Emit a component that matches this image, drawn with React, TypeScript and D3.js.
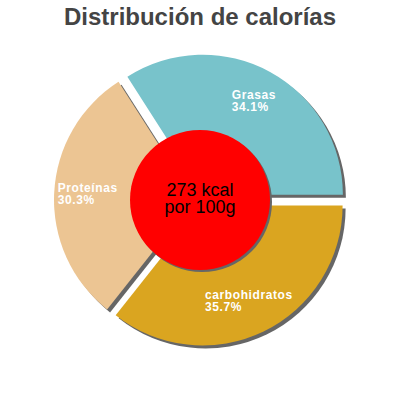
import * as d3 from 'd3';
import { useEffect, useRef } from 'react';

const title = 'Distribución de calorías';
const sliceLabels = ['carbohidratos', 'Proteínas', 'Grasas'];
const sliceValues = [35.7, 30.3, 34.1];
const sliceColors = ['#daa520', '#ecc593', '#78c3cb'];
const centerLines = ['273 kcal', 'por 100g'];

const WIDTH = 400;
const HEIGHT = 400;

export default function App() {
  const svgRef = useRef<SVGSVGElement>(null);

  const drawChart = () => {
    const svgEl = d3.select(svgRef.current!);
    svgEl.selectAll('*').remove();

    const cx = 200;
    const cy = 200;
    const radius = 140;
    const explode = 6;

    svgEl
      .append('text')
      .attr('x', WIDTH / 2)
      .attr('y', 25)
      .attr('text-anchor', 'middle')
      .attr('font-family', 'Liberation Sans, Arial, sans-serif')
      .attr('font-weight', 'bold')
      .attr('font-size', '24px')
      .attr('fill', '#444')
      .text(title);

    const pieData = d3
      .pie<number>()
      .sort(null)
      .startAngle(Math.PI / 2)
      .endAngle(Math.PI / 2 + 2 * Math.PI)(sliceValues);

    const arc = d3.arc<d3.PieArcDatum<number>>().innerRadius(0).outerRadius(radius);

    const offsetOf = (d: d3.PieArcDatum<number>) => {
      const mid = (d.startAngle + d.endAngle) / 2;
      return [Math.sin(mid) * explode, -Math.cos(mid) * explode];
    };

    const pieG = svgEl.append('g').attr('transform', `translate(${cx},${cy})`);

    // shadows
    pieG
      .append('g')
      .selectAll('path')
      .data(pieData)
      .enter()
      .append('path')
      .attr('d', (d) => arc(d)!)
      .attr('fill', '#666')
      .attr('transform', (d) => {
        const [ox, oy] = offsetOf(d);
        return `translate(${ox + 3},${oy + 3})`;
      });

    pieG
      .append('g')
      .selectAll('path')
      .data(pieData)
      .enter()
      .append('path')
      .attr('d', (d) => arc(d)!)
      .attr('fill', (_, i) => sliceColors[i])
      .attr('transform', (d) => {
        const [ox, oy] = offsetOf(d);
        return `translate(${ox},${oy})`;
      });

    // labels
    const labelArc = d3
      .arc<d3.PieArcDatum<number>>()
      .innerRadius(radius * 0.76)
      .outerRadius(radius * 0.76);
    pieData.forEach((d, i) => {
      const [ox, oy] = offsetOf(d);
      const [lx, ly] = labelArc.centroid(d);
      const g = pieG.append('g');
      const text = g
        .append('text')
        .attr('font-family', 'Liberation Sans, Arial, sans-serif')
        .attr('font-weight', 'bold')
        .attr('font-size', '12px')
        .attr('letter-spacing', '0.6px')
        .attr('fill', '#fff');
      text.append('tspan').attr('x', 0).attr('y', 0).text(sliceLabels[i]);
      text
        .append('tspan')
        .attr('x', 0)
        .attr('y', 12)
        .text(`${d3.format('.1f')(sliceValues[i])}%`);
      const box = (text.node() as SVGTextElement).getBBox();
      g.attr(
        'transform',
        `translate(${lx + ox - box.x - box.width / 2},${ly + oy - box.y - box.height / 2})`
      );
    });

    // center circle
    pieG.append('circle').attr('cx', 2).attr('cy', 2).attr('r', 70).attr('fill', '#666');
    pieG.append('circle').attr('cx', 0).attr('cy', 0).attr('r', 70).attr('fill', '#ff0000');

    const centerText = pieG
      .append('text')
      .attr('text-anchor', 'middle')
      .attr('font-family', 'Liberation Sans, Arial, sans-serif')
      .attr('font-size', '18px')
      .attr('fill', '#000');
    centerLines.forEach((line, i) => {
      centerText
        .append('tspan')
        .attr('x', 0)
        .attr('y', -4 + i * 17)
        .text(line);
    });
  };

  useEffect(() => {
    drawChart();
  }, []);

  return (
    <svg
      ref={svgRef}
      width={WIDTH}
      height={HEIGHT}
      style={{ position: 'absolute', left: 0, top: 0, background: '#fff' }}
    />
  );
}
